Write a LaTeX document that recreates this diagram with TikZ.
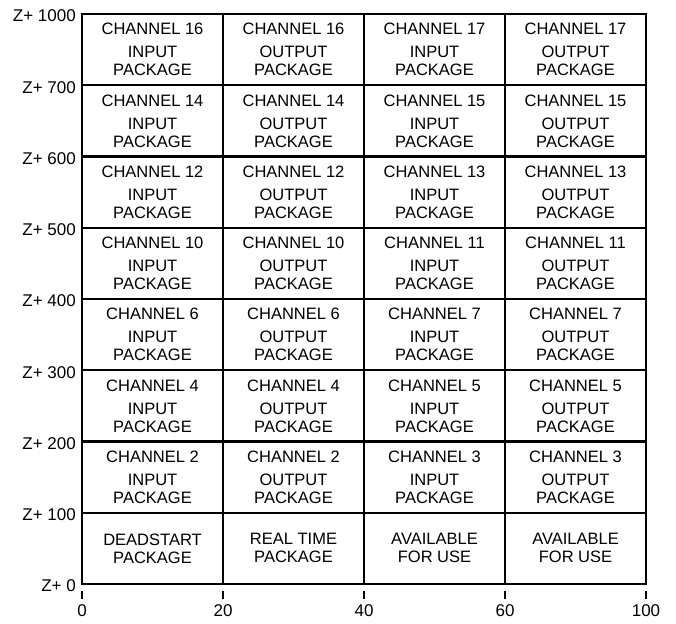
\documentclass[tikz,border=0pt]{standalone}
\usepackage{fontspec}
\setmainfont{Liberation Sans}
\usetikzlibrary{positioning}
\newcommand\cellfont{\fontsize{16.5}{18}\selectfont}
\newcommand\axisfont{\fontsize{17}{19}\selectfont}
\tikzset{
  cell/.style={draw, line width=2.4pt, minimum width=141pt, minimum height=71.25pt,
    inner sep=0pt, outer sep=0pt, align=center, font=\cellfont},
  zlab/.style={font=\axisfont, inner sep=0pt},
  xlab/.style={font=\axisfont, inner sep=0pt},
  tick/.style={line width=2.4pt}
}
\begin{document}
\begin{tikzpicture}[x=1pt, y=1pt]
    \useasboundingbox (-82,-39) rectangle (594,584);
    % Cells
    \node[cell, anchor=north west] (ch16in) at (0,570) {CHANNEL 16\\[5pt]INPUT\\PACKAGE};
    \node[cell, right=0pt of ch16in] (ch16out) {CHANNEL 16\\[5pt]OUTPUT\\PACKAGE};
    \node[cell, right=0pt of ch16out] (ch17in) {CHANNEL 17\\[5pt]INPUT\\PACKAGE};
    \node[cell, right=0pt of ch17in] (ch17out) {CHANNEL 17\\[5pt]OUTPUT\\PACKAGE};

    \node[cell, below=0pt of ch16in] (ch14in) {CHANNEL 14\\[5pt]INPUT\\PACKAGE};
    \node[cell, right=0pt of ch14in] (ch14out) {CHANNEL 14\\[5pt]OUTPUT\\PACKAGE};
    \node[cell, right=0pt of ch14out] (ch15in) {CHANNEL 15\\[5pt]INPUT\\PACKAGE};
    \node[cell, right=0pt of ch15in] (ch15out) {CHANNEL 15\\[5pt]OUTPUT\\PACKAGE};

    \node[cell, below=0pt of ch14in] (ch12in) {CHANNEL 12\\[5pt]INPUT\\PACKAGE};
    \node[cell, right=0pt of ch12in] (ch12out) {CHANNEL 12\\[5pt]OUTPUT\\PACKAGE};
    \node[cell, right=0pt of ch12out] (ch13in) {CHANNEL 13\\[5pt]INPUT\\PACKAGE};
    \node[cell, right=0pt of ch13in] (ch13out) {CHANNEL 13\\[5pt]OUTPUT\\PACKAGE};

    \node[cell, below=0pt of ch12in] (ch10in) {CHANNEL 10\\[5pt]INPUT\\PACKAGE};
    \node[cell, right=0pt of ch10in] (ch10out) {CHANNEL 10\\[5pt]OUTPUT\\PACKAGE};
    \node[cell, right=0pt of ch10out] (ch11in) {CHANNEL 11\\[5pt]INPUT\\PACKAGE};
    \node[cell, right=0pt of ch11in] (ch11out) {CHANNEL 11\\[5pt]OUTPUT\\PACKAGE};

    \node[cell, below=0pt of ch10in] (ch6in) {CHANNEL 6\\[5pt]INPUT\\PACKAGE};
    \node[cell, right=0pt of ch6in] (ch6out) {CHANNEL 6\\[5pt]OUTPUT\\PACKAGE};
    \node[cell, right=0pt of ch6out] (ch7in) {CHANNEL 7\\[5pt]INPUT\\PACKAGE};
    \node[cell, right=0pt of ch7in] (ch7out) {CHANNEL 7\\[5pt]OUTPUT\\PACKAGE};

    \node[cell, below=0pt of ch6in] (ch4in) {CHANNEL 4\\[5pt]INPUT\\PACKAGE};
    \node[cell, right=0pt of ch4in] (ch4out) {CHANNEL 4\\[5pt]OUTPUT\\PACKAGE};
    \node[cell, right=0pt of ch4out] (ch5in) {CHANNEL 5\\[5pt]INPUT\\PACKAGE};
    \node[cell, right=0pt of ch5in] (ch5out) {CHANNEL 5\\[5pt]OUTPUT\\PACKAGE};

    \node[cell, below=0pt of ch4in] (ch2in) {CHANNEL 2\\[5pt]INPUT\\PACKAGE};
    \node[cell, right=0pt of ch2in] (ch2out) {CHANNEL 2\\[5pt]OUTPUT\\PACKAGE};
    \node[cell, right=0pt of ch2out] (ch3in) {CHANNEL 3\\[5pt]INPUT\\PACKAGE};
    \node[cell, right=0pt of ch3in] (ch3out) {CHANNEL 3\\[5pt]OUTPUT\\PACKAGE};

    \node[cell, below=0pt of ch2in] (dead) {DEADSTART\\PACKAGE};
    \node[cell, right=0pt of dead] (rtime) {REAL TIME\\PACKAGE};
    \node[cell, right=0pt of rtime] (availa) {AVAILABLE\\FOR USE};
    \node[cell, right=0pt of availa] (availb) {AVAILABLE\\FOR USE};

    % Address labels
    \node[zlab, left=6pt of ch16in.north west, yshift=-2pt] (z1000) {Z+ 1000};
    \node[zlab, left=6pt of ch14in.north west, yshift=-2pt] (z700) {Z+ 700};
    \node[zlab, left=6pt of ch12in.north west, yshift=-2pt] (z600) {Z+ 600};
    \node[zlab, left=6pt of ch10in.north west, yshift=-2pt] (z500) {Z+ 500};
    \node[zlab, left=6pt of ch6in.north west, yshift=-2pt] (z400) {Z+ 400};
    \node[zlab, left=6pt of ch4in.north west, yshift=-2pt] (z300) {Z+ 300};
    \node[zlab, left=6pt of ch2in.north west, yshift=-2pt] (z200) {Z+ 200};
    \node[zlab, left=6pt of dead.north west, yshift=-2pt] (z100) {Z+ 100};
    \node[zlab, left=6pt of dead.south west, yshift=-2pt] (z0) {Z+ 0};

    % Word scale
    \node[xlab, below=20pt of dead.south west] (x0) {0};
    \node[xlab, below=20pt of rtime.south west] (x20) {20};
    \node[xlab, below=20pt of availa.south west] (x40) {40};
    \node[xlab, below=20pt of availb.south west] (x60) {60};
    \node[xlab, below=20pt of availb.south east] (x100) {100};
    \draw[tick] ([yshift=5pt]x0.north) -- ++(0,8);
    \draw[tick] ([yshift=5pt]x20.north) -- ++(0,8);
    \draw[tick] ([yshift=5pt]x40.north) -- ++(0,8);
    \draw[tick] ([yshift=5pt]x60.north) -- ++(0,8);
    \draw[tick] ([yshift=5pt]x100.north) -- ++(0,8);
\end{tikzpicture}
\end{document}
